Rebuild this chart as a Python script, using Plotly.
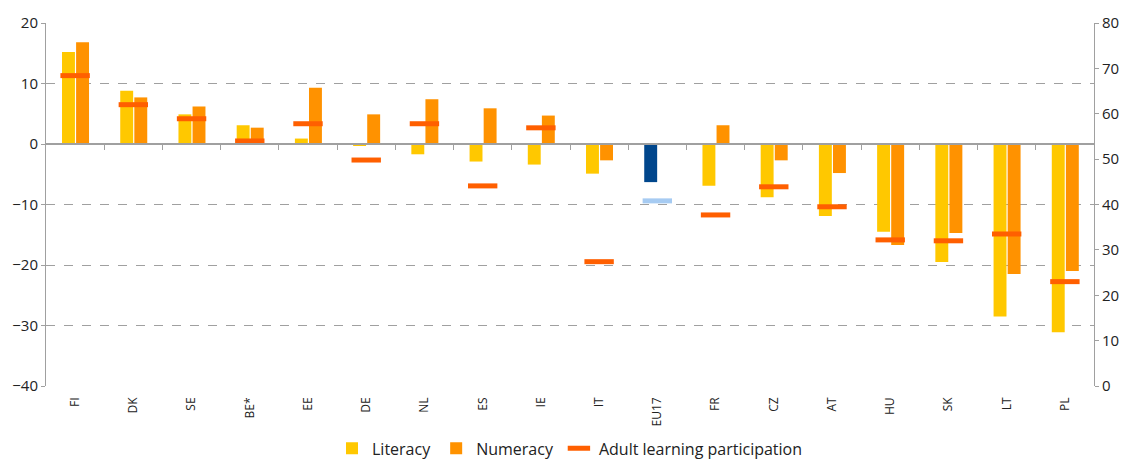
import plotly.graph_objects as go

# данные
countries = ['FI', 'DK', 'SE', 'BE*', 'EE', 'DE', 'NL', 'ES', 'IE', 'IT',
             'EU17', 'FR', 'CZ', 'AT', 'HU', 'SK', 'LT', 'PL']
literacy = [15.2, 8.8, 4.9, 3.1, 0.9, -0.2, -1.7, -2.9, -3.4, -4.9,
            -6.3, -6.9, -8.8, -11.9, -14.5, -19.5, -28.5, -31.1]
numeracy = [16.8, 7.7, 6.2, 2.7, 9.3, 4.9, 7.4, 5.9, 4.7, -2.7,
            -0.1, 3.1, -2.7, -4.8, -16.7, -14.7, -21.5, -21.0]
adult_learning = [68.4, 62.0, 58.9, 54.0, 57.8, 49.8, 57.8, 44.1, 56.9, 27.4,
                  40.8, 37.7, 43.9, 39.5, 32.2, 32.0, 33.5, 23.0]

# страница имеет отступ body 8px, поэтому фигура на 16px меньше окна
x_size_graf = 1116
y_size_graf = 451

YELLOW = '#FFC800'
ORANGE = '#FF9200'
RED_ORANGE = '#FF5F00'
DARK_BLUE = '#00468C'
LIGHT_BLUE = '#A6CBF2'
GRID = '#A0A0A0'
FONT = 'Open Sans'

idx = list(range(len(countries)))
lit_colors = [DARK_BLUE if c == 'EU17' else YELLOW for c in countries]
alp_colors = [LIGHT_BLUE if c == 'EU17' else RED_ORANGE for c in countries]

fig = go.Figure()

fig.add_trace(go.Bar(
    x=idx, y=literacy, name='Literacy',
    marker=dict(color=lit_colors, line=dict(width=0)),
    width=0.222, offset=-0.225,
))
fig.add_trace(go.Bar(
    x=idx, y=numeracy, name='Numeracy',
    marker=dict(color=ORANGE, line=dict(width=0)),
    width=0.222, offset=0.017,
))
fig.add_trace(go.Scatter(
    x=idx, y=adult_learning, name='Adult learning participation',
    yaxis='y2', mode='markers',
    marker=dict(symbol='line-ew', size=21, color=alp_colors,
                line=dict(color=alp_colors, width=5)),
))
# невидимый след, чтобы ось xaxis2 (линия нуля с засечками) отрисовалась
fig.add_trace(go.Scatter(x=[0], y=[0], xaxis='x2', mode='markers',
                         marker=dict(opacity=0), showlegend=False,
                         hoverinfo='skip'))

fig.update_layout(
    width=x_size_graf,
    height=y_size_graf,
    margin=dict(l=38, r=30, t=15, b=73, autoexpand=False),
    plot_bgcolor='white',
    paper_bgcolor='white',
    barmode='overlay',
    font=dict(family=FONT, color='#222222'),
    xaxis=dict(
        range=[-0.5, 17.5], automargin=False,
        tickvals=idx, ticktext=countries, tickangle=-90,
        tickfont=dict(size=12), ticklabelstandoff=8,
        showgrid=False, showline=False, zeroline=False, ticks='',
    ),
    xaxis2=dict(
        overlaying='x', anchor='free', position=2 / 3,
        range=[-0.5, 17.5], automargin=False,
        tickvals=[i + 0.5 for i in idx[:-1]],
        showticklabels=False, ticks='outside', ticklen=5,
        tickcolor=GRID, tickwidth=1,
        showline=True, linecolor=GRID, linewidth=2,
        showgrid=False, zeroline=False,
    ),
    yaxis=dict(
        range=[-40, 20], dtick=10, automargin=False,
        tickfont=dict(size=15),
        showgrid=True, gridcolor=GRID, griddash='dash', gridwidth=1,
        showline=True, linecolor=GRID, linewidth=1,
        ticks='outside', ticklen=4, tickcolor=GRID,
        zeroline=False,
    ),
    yaxis2=dict(
        range=[0, 80], dtick=10, overlaying='y', side='right', automargin=False,
        tickfont=dict(size=15),
        showgrid=False, zeroline=False,
        showline=True, linecolor=GRID, linewidth=1,
        ticks='outside', ticklen=4, tickcolor=GRID,
    ),
    legend=dict(
        orientation='h', x=0.5, xanchor='center', y=-0.172, yanchor='middle',
        font=dict(size=16), itemwidth=30,
    ),
    showlegend=True,
)

fig.write_html("out.html")
